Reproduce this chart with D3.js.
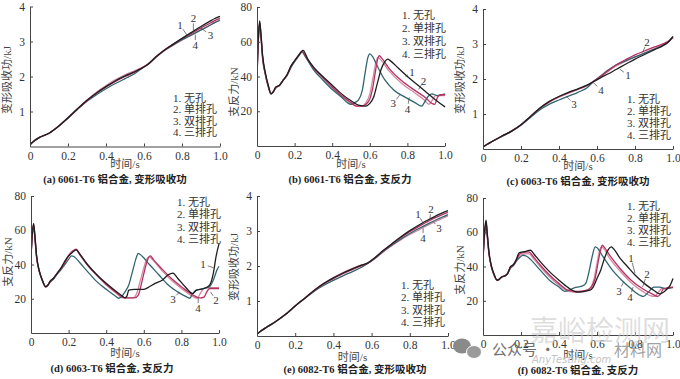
<!DOCTYPE html>
<html><head><meta charset="utf-8">
<script src="https://cdn.jsdelivr.net/npm/d3@7"></script>
<style>body{margin:0;background:#fff}svg{display:block}</style>
</head><body>
<svg id="chart" width="680" height="379"></svg>
<script>
// ---------------- DATA ----------------
const timeTicks = [0, 0.2, 0.4, 0.6, 0.8, 1.0];
const energyTicks = [1, 2, 3, 4];
const forceTicks = [20, 40, 60, 80];
const seriesNames = ["1. 无孔", "2. 单排孔", "3. 双排孔", "4. 三排孔"];
const seriesNums = ["1", "2", "3", "4"];
const captions = ["(a) 6061-T6 铝合金, 变形吸收功", "(b) 6061-T6 铝合金, 支反力", "(c) 6063-T6 铝合金, 变形吸收功",
                  "(d) 6063-T6 铝合金, 支反力", "(e) 6082-T6 铝合金, 变形吸收功", "(f) 6082-T6 铝合金, 支反力"];
const xTitle = "时间/s";
const energyTitle = "变形吸收功/kJ";
const forceTitle = "支反力/kN";

const energyTime = [0,0.02,0.05,0.1,0.15,0.2,0.25,0.3,0.35,0.4,0.45,0.5,0.55,0.58,0.62,0.66,0.7,0.75,0.8,0.85,0.9,0.95,0.97,1.0];

// (a) 6061-T6 energy, kJ
const energy6061_1 = [.05,.15,.26,.38,.58,.82,1.08,1.32,1.53,1.71,1.88,2.02,2.13,2.21,2.34,2.54,2.72,2.91,3.09,3.26,3.43,3.59,3.65,3.72];
const energy6061_2 = [.05,.15,.26,.38,.58,.82,1.07,1.31,1.52,1.70,1.86,2.00,2.12,2.22,2.35,2.55,2.73,2.91,3.08,3.23,3.39,3.53,3.59,3.66];
const energy6061_3 = [.05,.15,.26,.38,.57,.81,1.06,1.29,1.48,1.65,1.80,1.94,2.08,2.20,2.35,2.55,2.72,2.89,3.05,3.19,3.33,3.47,3.53,3.60];
const energy6061_4 = [.05,.15,.26,.38,.58,.82,1.08,1.33,1.55,1.74,1.91,2.05,2.16,2.23,2.34,2.53,2.71,2.88,3.04,3.18,3.33,3.48,3.54,3.62];

// (c) 6063-T6 energy, kJ
const energy6063_1 = [.06,.13,.22,.37,.51,.69,.93,1.17,1.36,1.50,1.62,1.72,1.83,1.92,2.04,2.15,2.27,2.42,2.57,2.70,2.83,2.96,3.03,3.22];
const energy6063_2 = [.06,.13,.22,.37,.51,.69,.93,1.17,1.36,1.50,1.61,1.71,1.82,1.93,2.08,2.24,2.40,2.55,2.69,2.80,2.91,3.01,3.06,3.18];
const energy6063_3 = [.06,.13,.22,.36,.50,.68,.90,1.12,1.28,1.40,1.51,1.62,1.76,1.92,2.09,2.26,2.40,2.52,2.63,2.74,2.85,2.97,3.04,3.20];
const energy6063_4 = [.06,.13,.22,.37,.51,.69,.93,1.16,1.34,1.48,1.59,1.70,1.82,1.91,2.06,2.22,2.37,2.50,2.63,2.74,2.86,2.98,3.04,3.19];

// (e) 6082-T6 energy, kJ
const energy6082_1 = [.05,.14,.25,.42,.62,.86,1.08,1.31,1.50,1.66,1.80,1.92,2.03,2.09,2.25,2.44,2.61,2.82,3.01,3.18,3.33,3.47,3.52,3.58];
const energy6082_2 = [.05,.14,.25,.42,.62,.86,1.08,1.30,1.49,1.64,1.78,1.90,2.01,2.08,2.24,2.43,2.60,2.80,2.98,3.14,3.29,3.42,3.47,3.53];
const energy6082_3 = [.05,.14,.25,.42,.62,.86,1.07,1.28,1.45,1.59,1.72,1.84,1.97,2.07,2.23,2.41,2.57,2.76,2.93,3.08,3.22,3.35,3.40,3.47];
const energy6082_4 = [.05,.14,.25,.42,.62,.86,1.08,1.31,1.51,1.67,1.81,1.93,2.03,2.08,2.22,2.40,2.56,2.74,2.90,3.04,3.18,3.31,3.36,3.43];

// (b) 6061-T6 force, [time s, kN]
const force6061_1 = [[0,42],[0.006,60],[0.014,72],[0.02,66],[0.03,52],[0.045,42],[0.06,35],[0.075,30],[0.085,31],[0.1,34],[0.12,35],[0.14,38],[0.16,41],[0.18,46],[0.2,49],[0.22,52],[0.245,55],[0.27,50],[0.3,45.5],[0.35,40],[0.4,35],[0.45,30],[0.5,26],[0.54,23.5],[0.58,23],[0.6,24.5],[0.62,28],[0.64,36],[0.66,44],[0.68,48.5],[0.695,50],[0.71,49],[0.75,45],[0.8,40],[0.85,35.5],[0.9,31],[0.95,26.5],[1.0,22.5]];
const force6061_2 = [[0,40],[0.006,58],[0.014,71],[0.02,65],[0.03,51],[0.045,41],[0.06,34.5],[0.075,30],[0.085,31],[0.1,33.5],[0.12,35],[0.14,38],[0.16,41],[0.18,45.5],[0.2,49],[0.22,52],[0.24,54.5],[0.26,51.5],[0.3,45],[0.35,39.5],[0.4,34],[0.45,29],[0.5,25],[0.53,23],[0.56,23],[0.58,24],[0.6,27],[0.615,33],[0.63,43],[0.642,50],[0.65,52],[0.66,51],[0.7,45],[0.77,37.5],[0.84,32],[0.9,27.5],[0.93,24.5],[0.945,24],[0.96,28],[0.975,29.5],[1.0,29.5]];
const force6061_3 = [[0,40],[0.006,58],[0.014,70],[0.02,64],[0.03,50],[0.045,41],[0.06,34],[0.075,30],[0.085,31],[0.1,33.5],[0.12,35],[0.14,38],[0.16,40.5],[0.18,45],[0.2,48.5],[0.22,51.5],[0.24,54],[0.26,51],[0.3,44],[0.35,38],[0.4,32.5],[0.45,28],[0.48,25],[0.5,24],[0.52,25],[0.54,26.5],[0.56,32],[0.575,42],[0.59,51],[0.6,53],[0.615,51.5],[0.64,46],[0.68,38],[0.73,32],[0.79,28],[0.84,25],[0.876,23],[0.89,25],[0.91,28.5],[0.93,30],[0.96,29],[1.0,30]];
const force6061_4 = [[0,41],[0.006,59],[0.014,71],[0.02,65],[0.03,51],[0.045,41],[0.06,34.5],[0.075,30],[0.085,31],[0.1,33.5],[0.12,35],[0.14,38],[0.16,41],[0.18,45.5],[0.2,49],[0.22,52],[0.24,54],[0.26,51],[0.3,44.5],[0.35,39],[0.4,33.5],[0.45,28.5],[0.5,24.5],[0.53,23],[0.555,23],[0.58,25],[0.6,30],[0.615,38],[0.63,47],[0.642,51],[0.655,50],[0.7,43.5],[0.77,36],[0.84,30.5],[0.89,26.5],[0.915,24],[0.93,26],[0.95,29],[0.97,29],[1.0,29]];

// (d) 6063-T6 force
const force6063_1 = [[0,45],[0.006,57],[0.014,64],[0.02,58],[0.03,45],[0.045,36],[0.06,31],[0.078,27],[0.09,28],[0.1,30],[0.12,32],[0.14,35],[0.16,38],[0.18,42],[0.2,45],[0.22,47],[0.24,48.5],[0.26,46],[0.3,40],[0.35,34],[0.4,29],[0.45,24.5],[0.48,22],[0.5,20.5],[0.51,21.5],[0.52,25],[0.55,25.5],[0.6,25.5],[0.63,27],[0.66,29],[0.7,31],[0.73,34],[0.755,35],[0.78,32],[0.82,27],[0.86,23],[0.88,25],[0.92,26],[0.95,28],[0.97,35],[0.985,45],[1.0,52]];
const force6063_2 = [[0,44],[0.006,56],[0.014,63],[0.02,57],[0.03,44],[0.045,35.5],[0.06,31],[0.078,27],[0.09,28],[0.1,29.5],[0.12,32],[0.14,35],[0.16,37.5],[0.18,41],[0.2,45],[0.22,47.5],[0.24,49],[0.26,46],[0.3,40],[0.35,34],[0.4,28.5],[0.45,24],[0.5,20.5],[0.55,20.5],[0.57,22],[0.59,30],[0.61,39],[0.625,44],[0.635,45],[0.65,43],[0.7,37],[0.75,31.5],[0.8,27],[0.85,23],[0.9,20.5],[0.92,21],[0.935,24],[0.95,26],[1.0,26]];
const force6063_3 = [[0,44],[0.006,56],[0.014,62],[0.02,56],[0.03,44],[0.045,35.5],[0.06,30.5],[0.078,27],[0.09,28],[0.1,29.5],[0.12,31.5],[0.14,34.5],[0.16,37],[0.18,40],[0.2,43],[0.215,45],[0.23,44.5],[0.26,41],[0.3,36],[0.35,30],[0.4,25.5],[0.45,21.5],[0.465,20.3],[0.48,21],[0.5,24],[0.52,28],[0.54,36],[0.56,44],[0.57,46.5],[0.59,45],[0.63,40],[0.68,34],[0.73,28],[0.78,24],[0.82,21.5],[0.845,20.3],[0.86,23],[0.88,25],[0.92,26],[0.95,27],[0.97,31],[0.99,37],[1.0,39]];
const force6063_4 = [[0,45],[0.006,57],[0.014,63],[0.02,57],[0.03,44.5],[0.045,36],[0.06,31],[0.078,27],[0.09,28],[0.1,30],[0.12,32],[0.14,35],[0.16,38],[0.18,41.5],[0.2,45.5],[0.22,48],[0.24,48.5],[0.26,45.5],[0.3,39.5],[0.35,33.5],[0.4,28],[0.45,23.5],[0.49,20.5],[0.54,20.5],[0.56,22.5],[0.58,30],[0.6,38],[0.615,43],[0.63,44.5],[0.645,43],[0.7,36],[0.75,30.5],[0.8,26],[0.85,22],[0.885,20.3],[0.9,23],[0.92,26],[0.95,26.5],[1.0,26.5]];

// (f) 6082-T6 force
const force6082_1 = [[0,45],[0.008,60],[0.016,67],[0.022,60],[0.032,48],[0.045,40],[0.06,35],[0.074,32],[0.085,32.5],[0.1,34],[0.115,34.5],[0.13,36],[0.145,40],[0.16,41],[0.175,44],[0.19,48],[0.21,48.5],[0.23,49],[0.25,49.5],[0.27,47],[0.3,43],[0.35,37],[0.4,32],[0.45,27.5],[0.48,25.5],[0.5,25],[0.53,25.5],[0.56,26],[0.58,28],[0.6,33],[0.62,38],[0.64,45],[0.66,50],[0.675,51.5],[0.69,50],[0.72,45],[0.76,40],[0.8,35],[0.85,30],[0.9,26],[0.93,24],[0.95,25],[0.97,27],[0.985,29],[1.0,33]];
const force6082_2 = [[0,44],[0.008,59],[0.016,66],[0.022,59],[0.032,47],[0.045,39.5],[0.06,34.5],[0.074,32],[0.085,32.5],[0.1,34],[0.115,34.5],[0.13,36],[0.145,39.5],[0.16,41],[0.175,43.5],[0.19,47],[0.21,48],[0.24,48.5],[0.27,45],[0.3,41],[0.35,35],[0.4,30],[0.45,26],[0.5,25.5],[0.54,26],[0.57,28],[0.59,33],[0.605,42],[0.62,50],[0.628,52.4],[0.64,51],[0.67,46],[0.72,39],[0.78,32],[0.84,27],[0.89,24],[0.92,22.5],[0.935,24],[0.95,27],[1.0,28]];
const force6082_3 = [[0,44],[0.008,58],[0.016,65],[0.022,58],[0.032,47],[0.045,39.5],[0.06,34.5],[0.074,32],[0.085,32.5],[0.1,34],[0.115,34.5],[0.13,36],[0.145,39],[0.16,40.5],[0.175,43],[0.19,45],[0.21,46.5],[0.23,46],[0.26,43],[0.3,38],[0.35,32],[0.4,28],[0.43,25.5],[0.45,26],[0.48,27.5],[0.52,28.5],[0.54,30],[0.56,38],[0.575,46],[0.59,51.5],[0.6,51],[0.63,46],[0.68,38],[0.73,32],[0.78,27],[0.83,23],[0.845,22.5],[0.87,25],[0.9,28],[0.93,28],[0.96,27],[1.0,28]];
const force6082_4 = [[0,45],[0.008,59],[0.016,66],[0.022,59],[0.032,47],[0.045,40],[0.06,35],[0.074,32],[0.085,32.5],[0.1,34],[0.115,34.5],[0.13,36],[0.145,39.5],[0.16,41],[0.175,43.5],[0.19,46],[0.21,47],[0.24,47.5],[0.27,44],[0.3,40],[0.35,34],[0.4,29],[0.45,25.5],[0.5,25],[0.54,25.5],[0.565,27.5],[0.585,33],[0.6,42],[0.615,50],[0.623,51.5],[0.635,50.5],[0.665,45],[0.72,37.5],[0.78,30.5],[0.84,25.5],[0.88,23],[0.905,22.5],[0.92,24.5],[0.94,27],[1.0,27.5]];

// curve-number annotations: [label t, label v, target t, target v]
const notesA = [[0.79,3.47,0.83,3.15],[0.86,3.66,0.86,3.28],[0.95,3.19,0.90,3.38],[0.87,2.90,0.87,3.20]];
const notesB = [[0.825,42.5,0.79,40],[0.885,37.5,0.86,32.5],[0.725,24.5,0.76,29.5],[0.80,21.5,0.81,28]];
const notesC = [[0.763,2.11,0.72,2.28],[0.863,3.05,0.84,2.76],[0.479,1.29,0.44,1.5],[0.621,1.69,0.58,1.9]];
const notesD = [[0.915,40.3,0.972,38],[0.984,19.3,0.955,24],[0.755,19.9,0.79,24],[0.888,14.6,0.89,20.5]];
const notesE = [[0.843,3.49,0.87,3.22],[0.911,3.62,0.905,3.33],[0.953,3.09,0.92,3.28],[0.869,2.80,0.87,3.08]];
const notesF = [[0.779,45,0.80,36],[0.863,35.6,0.84,28],[0.716,25.7,0.74,31],[0.774,22.2,0.79,28]];

// ---------------- STYLE / LAYOUT ----------------
const colors = ["#1e1e1e", "#b4325f", "#2f6670", "#d48aa5"];
const serif = '"Liberation Serif","Noto Sans CJK SC",serif';
const textColor = "#333";

const svg = d3.select("#chart");
svg.append("rect").attr("width", 680).attr("height", 379).attr("fill", "#fff");

const panels = [
  {kind:"E", x0:30,  x1:220, yTop:6.5, yBot:146.5, ymax:4,  series:[energy6061_1,energy6061_2,energy6061_3,energy6061_4], notes:notesA, legend:[0.753,1.386,11.3], cap:[115,179.5], ytc:80,  xtOff:17.5},
  {kind:"F", x0:257, x1:445, yTop:7,   yBot:146,   ymax:80, series:[force6061_1,force6061_2,force6061_3,force6061_4], notes:notesB, legend:[0.771,75.4,13], cap:[350,179.5], ytc:92, xtOff:18},
  {kind:"E", x0:483, x1:673, yTop:9,   yBot:149,   ymax:4,  series:[energy6063_1,energy6063_2,energy6063_3,energy6063_4], notes:notesC, legend:[0.758,1.43,12], cap:[578,181.5], ytc:80, xtOff:17},
  {kind:"F", x0:31,  x1:219, yTop:196, yBot:333,   ymax:80, series:[force6063_1,force6063_2,force6063_3,force6063_4], notes:notesD, legend:[0.777,76.5,12.4], cap:[112,368], ytc:262, xtOff:20},
  {kind:"E", x0:257, x1:448, yTop:196, yBot:336,   ymax:4,  series:[energy6082_1,energy6082_2,energy6082_3,energy6082_4], notes:notesE, legend:[0.754,1.457,12.3], cap:[355,369], ytc:267, xtOff:21},
  {kind:"F", x0:483, x1:673, yTop:198, yBot:335,   ymax:80, series:[force6082_1,force6082_2,force6082_3,force6082_4], notes:notesF, legend:[0.758,75.3,12], cap:[578,370], ytc:270, xtOff:20}
];

panels.forEach((p, pi) => {
  const g = svg.append("g");
  const x = d3.scaleLinear().domain([0, 1]).range([p.x0, p.x1]);
  const y = d3.scaleLinear().domain([0, p.ymax]).range([p.yBot, p.yTop]);

  // lines (drawn first, under the axes)
  const clipId = "clip" + pi;
  g.append("clipPath").attr("id", clipId).append("rect")
    .attr("x", p.x0).attr("y", p.yTop - 2).attr("width", p.x1 - p.x0 + 2).attr("height", p.yBot - p.yTop + 2);
  const line = d3.line().curve(d3.curveMonotoneX).x(d => x(d[0])).y(d => y(d[1]));
  const order = [3, 2, 1, 0];
  order.forEach(si => {
    const raw = p.series[si];
    const pts = p.kind === "E" ? energyTime.map((t, i) => [t, raw[i]]) : raw;
    g.append("path").attr("d", line(pts)).attr("fill", "none")
      .attr("stroke", colors[si]).attr("stroke-width", 1.3).attr("stroke-linejoin", "round")
      .attr("clip-path", `url(#${clipId})`);
  });

  // axes
  const gx = g.append("g").attr("transform", `translate(0,${p.yBot})`)
    .call(d3.axisBottom(x).tickValues(timeTicks).tickSize(-3).tickSizeOuter(0).tickPadding(5)
      .tickFormat(d => d === 0 ? "0" : d3.format(".1f")(d)));
  const gy = g.append("g").attr("transform", `translate(${p.x0},0)`)
    .call(d3.axisLeft(y).tickValues(p.kind === "E" ? energyTicks : forceTicks).tickSize(-3).tickSizeOuter(0).tickPadding(5)
      .tickFormat(d3.format("d")));
  [gx, gy].forEach(a => {
    a.attr("font-family", null).attr("font-size", null);
    a.selectAll("path,line").attr("stroke", "#444").attr("stroke-width", 1);
    a.selectAll("text").attr("font-family", serif).attr("font-size", 11.5).attr("fill", textColor);
  });

  // legend
  const [lt, lv, sp] = p.legend;
  seriesNames.forEach((nm, i) => {
    g.append("text").attr("x", x(lt)).attr("y", y(lv) + i * sp)
      .attr("dominant-baseline", "central").attr("font-family", serif).attr("font-size", 11)
      .attr("fill", textColor).text(nm);
  });

  // curve-number notes
  p.notes.forEach((n, i) => {
    const lx = x(n[0]), ly = y(n[1]), tx = x(n[2]), ty = y(n[3]);
    const dx = tx - lx, dy = ty - ly, len = Math.hypot(dx, dy) || 1;
    g.append("line").attr("x1", lx + dx / len * 5).attr("y1", ly + dy / len * 5)
      .attr("x2", tx).attr("y2", ty).attr("stroke", "#444").attr("stroke-width", 0.7);
    g.append("text").attr("x", lx).attr("y", ly).attr("text-anchor", "middle")
      .attr("dominant-baseline", "central").attr("font-family", serif).attr("font-size", 11)
      .attr("fill", textColor).text(seriesNums[i]);
  });

  // titles
  g.append("text").attr("x", (p.x0 + p.x1) / 2).attr("y", p.yBot + p.xtOff)
    .attr("text-anchor", "middle").attr("dominant-baseline", "central")
    .attr("font-family", serif).attr("font-size", 11).attr("fill", "#444").text(xTitle);
  g.append("text").attr("transform", `translate(${p.x0 - 23},${p.ytc}) rotate(-90)`)
    .attr("text-anchor", "middle").attr("dominant-baseline", "central")
    .attr("font-family", serif).attr("font-size", 11).attr("fill", "#444")
    .text(p.kind === "E" ? energyTitle : forceTitle);
  g.append("text").attr("x", p.cap[0]).attr("y", p.cap[1])
    .attr("text-anchor", "middle").attr("dominant-baseline", "central")
    .attr("font-family", serif).attr("font-size", 10.5).attr("font-weight", "bold")
    .attr("fill", "#222").text(captions[pi]);
});

// watermark
const wm = svg.append("g").attr("pointer-events", "none");
wm.append("text").attr("x", 600).attr("y", 341).attr("text-anchor", "middle")
  .attr("font-family", '"Noto Sans CJK SC",sans-serif').attr("font-size", 28)
  .attr("fill", "#c8c8c8").attr("fill-opacity", 0.6).text("嘉峪检测网");
wm.append("ellipse").attr("cx", 462).attr("cy", 346).attr("rx", 9).attr("ry", 7.5).attr("fill", "#8a8a8a");
wm.append("ellipse").attr("cx", 474).attr("cy", 352).attr("rx", 7.5).attr("ry", 6.5).attr("fill", "#9a9a9a").attr("stroke", "#fff").attr("stroke-width", 1);
wm.append("text").attr("x", 492).attr("y", 355)
  .attr("font-family", '"Noto Sans CJK SC",sans-serif').attr("font-size", 15)
  .attr("fill", "#6e6e6e").text("公众号 ·");
wm.append("text").attr("x", 614).attr("y", 356)
  .attr("font-family", '"Noto Sans CJK SC",sans-serif').attr("font-size", 16)
  .attr("fill", "#8a8a8a").attr("fill-opacity", 0.8).text("材料网");
wm.append("text").attr("x", 532).attr("y", 363)
  .attr("font-family", '"DejaVu Sans",sans-serif').attr("font-size", 10).attr("font-style", "italic")
  .attr("fill", "#c4c4c4").text("AnyTesting.com");
</script>
</body></html>
